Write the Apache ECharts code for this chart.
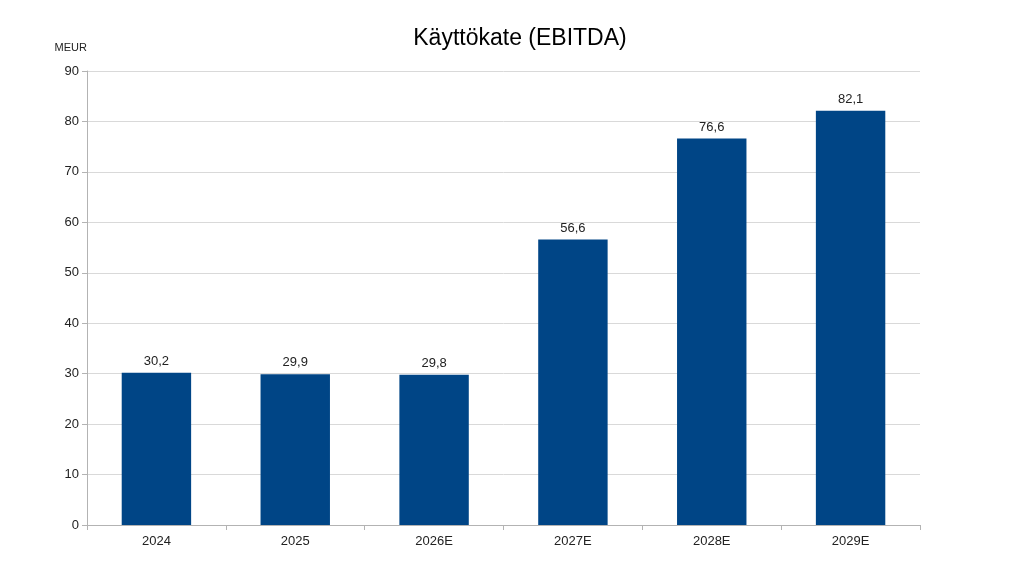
<!DOCTYPE html>
<html><head><meta charset="utf-8">
<script src="https://cdn.jsdelivr.net/npm/echarts@6/dist/echarts.min.js"></script>
<style>html,body{margin:0;padding:0;background:#fff}#c{width:1024px;height:576px}</style>
</head><body><div id="c"></div>
<script>
const categories = ['2024','2025','2026E','2027E','2028E','2029E'];
const values = [30.2, 29.9, 29.8, 56.6, 76.6, 82.1];
const chart = echarts.init(document.getElementById('c'));
chart.setOption({
  animation:false,
  title:{text:'Käyttökate (EBITDA)',left:519,top:22,textAlign:'center',textStyle:{fontFamily:'Liberation Sans',fontSize:23,fontWeight:'normal',color:'#000'}},
  grid:{left:87,right:104,top:71,bottom:51},
  xAxis:{type:'category',data:categories,
    axisLine:{lineStyle:{color:'#b3b3b3'}},
    axisTick:{show:true,length:5,lineStyle:{color:'#b3b3b3'}},
    axisLabel:{fontFamily:'Liberation Sans',fontSize:13,color:'#222',margin:10}},
  yAxis:{type:'value',min:0,max:90,interval:10,name:'MEUR',nameLocation:'end',nameGap:18,
    nameTextStyle:{fontFamily:'Liberation Sans',fontSize:11,color:'#222',align:'right',padding:[0,0,0,0]},
    axisLine:{show:true,lineStyle:{color:'#b3b3b3'}},
    axisTick:{show:true,length:5,lineStyle:{color:'#b3b3b3'}},
    splitLine:{lineStyle:{color:'#d9d9d9'}},
    axisLabel:{fontFamily:'Liberation Sans',fontSize:13,color:'#222',margin:8}},
  series:[{type:'bar',data:values,barWidth:'50%',itemStyle:{color:'#004586'},
    label:{show:true,position:'top',distance:5,fontFamily:'Liberation Sans',fontSize:13,color:'#222',
      formatter:p=>String(p.value).replace('.',',')}}]
});
chart.setOption({title:{left:515}});
</script></body></html>
